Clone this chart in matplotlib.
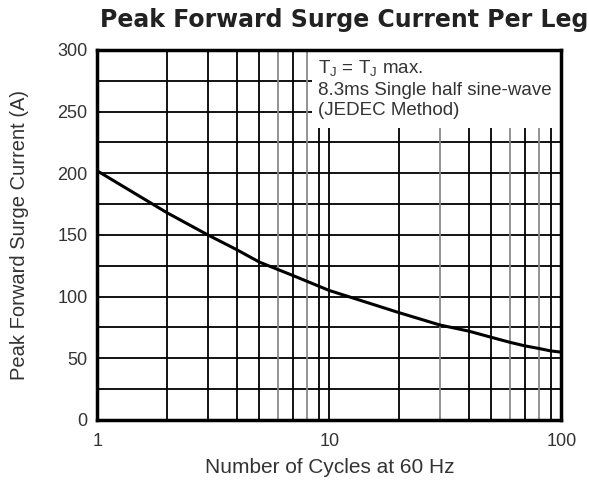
import numpy as np
import matplotlib.pyplot as plt
from matplotlib.patches import Rectangle
from matplotlib.ticker import FixedLocator, NullFormatter

plt.rcParams['font.family'] = ['Liberation Sans', 'DejaVu Sans']

# curve
cycles = [1, 2, 3, 4, 5, 7, 10, 20, 30, 40, 50, 60, 70, 80, 90, 100]
surge = [202, 168, 150, 138, 128, 117, 105, 87, 77, 72, 67, 63, 60, 58, 56, 55]

y_ticks = [0, 50, 100, 150, 200, 250, 300]
x_ticks = [1, 10, 100]
x_labels = ["1", "10", "100"]

fig = plt.figure(figsize=(5.89, 4.8), dpi=100)
ax = fig.add_axes([0.165, 0.125, 0.788, 0.771])

ax.set_xscale('log')
ax.set_xlim(1, 100)
ax.set_ylim(0, 300)

# grid: every 25 A and every integer cycle (some lines print lighter in the scan)
for y in range(25, 300, 25):
    ax.axhline(y, color='black', lw=1.3, zorder=1)
light = [6, 8, 30, 60, 80]
minor = [v * d for d in (1, 10) for v in range(2, 10)]
for x in minor + [10]:
    c = '#8a8a8a' if x in light else 'black'
    ax.axvline(x, color=c, lw=1.3, zorder=1)

ax.plot(cycles, surge, color='black', lw=2.2, zorder=3)

# white patch behind the note
ax.add_patch(Rectangle((0.463, 0.79), 0.537, 0.21, transform=ax.transAxes,
                       facecolor='white', edgecolor='none', zorder=2))

ax.set_yticks(y_ticks)
ax.xaxis.set_major_locator(FixedLocator(x_ticks))
ax.set_xticklabels(x_labels)
ax.xaxis.set_minor_formatter(NullFormatter())
ax.tick_params(axis='both', which='both', length=0, labelsize=13, colors='#333333')
ax.tick_params(axis='y', pad=7)
ax.tick_params(axis='x', pad=9)

for s in ax.spines.values():
    s.set_linewidth(2.5)
    s.set_zorder(5)

ax.set_xlabel("Number of Cycles at 60 Hz", fontsize=15, color='#333333', labelpad=6)
ax.set_ylabel("Peak Forward Surge Current (A)", fontsize=14.5, color='#333333', labelpad=20)
fig.text(0.584, 0.958, "Peak Forward Surge Current Per Leg", ha='center', va='center',
         fontsize=17, fontweight='bold', color='#222222', family='DejaVu Sans')

ax.text(0.476, 0.975, "T$_\\mathregular{J}$ = T$_\\mathregular{J}$ max.\n8.3ms Single half sine-wave\n(JEDEC Method)",
        transform=ax.transAxes, ha='left', va='top', fontsize=13.5, color='#333333',
        linespacing=1.2, zorder=6)

fig.savefig("out.png", dpi=100)
